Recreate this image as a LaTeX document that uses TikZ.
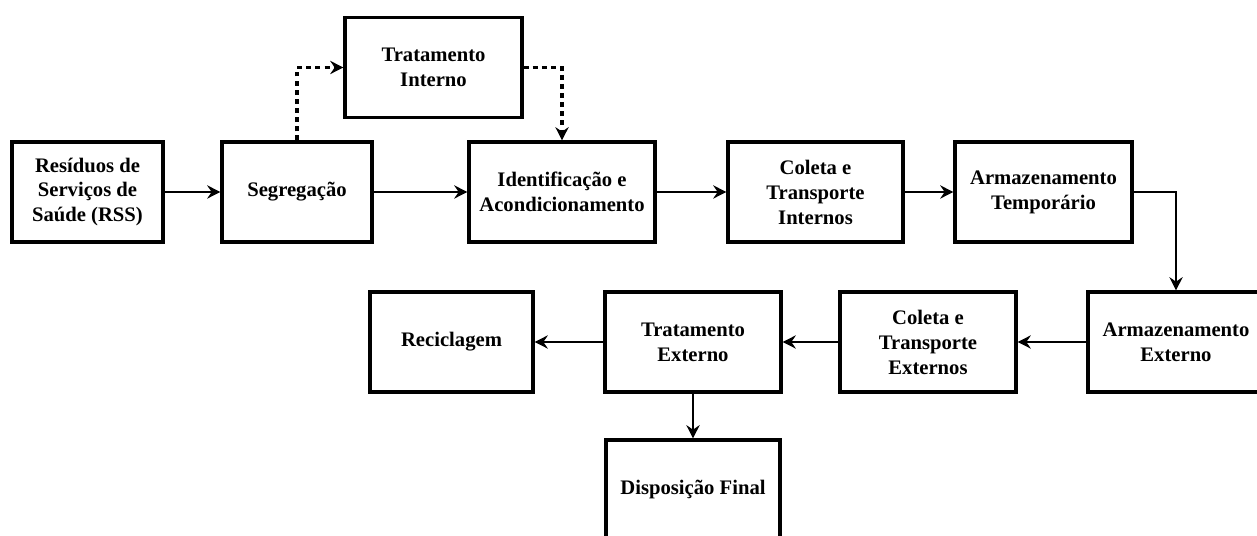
\documentclass[tikz,border=0pt]{standalone}
\usepackage{fontspec}
\setmainfont{Liberation Serif}
\usepackage{tikz}
\usetikzlibrary{arrows.meta, calc}

\begin{document}
\begin{tikzpicture}[
    box/.style={draw=black, line width=1.8pt, align=center, inner sep=2pt,
        minimum height=2.0cm, font=\fontsize{11.75}{14.2}\selectfont\bfseries},
    arr/.style={-{Stealth[length=7.5pt, width=7.5pt, inset=2.5pt]}, line width=1.6pt},
    dots/.style={arr, line width=2.1pt, dash pattern=on 2.8pt off 2.4pt},
]

\path[use as bounding box] (0,0) rectangle (25.14,-10.72);

% ════════════════════════════════════════════════════════
% 1. INTERNAL FLOW (top row)
% ════════════════════════════════════════════════════════
\node[box, minimum width=3.02cm] (rss)     at (1.75, -3.84)  {Resíduos de\\Serviços de\\Saúde (RSS)};
\node[box, minimum width=3.00cm] (seg)     at (5.94, -3.84)  {Segregação};
\node[box, minimum width=3.54cm] (tint)    at (8.67, -1.35)  {Tratamento\\Interno};
\node[box, minimum width=3.72cm] (ident)   at (11.24, -3.84) {Identificação e\\Acondicionamento};
\node[box, minimum width=3.50cm] (colint)  at (16.31, -3.84) {Coleta e\\Transporte\\Internos};
\node[box, minimum width=3.54cm] (armtemp) at (20.87, -3.84) {Armazenamento\\Temporário};

% ════════════════════════════════════════════════════════
% 2. EXTERNAL FLOW (bottom rows)
% ════════════════════════════════════════════════════════
\node[box, minimum width=3.52cm] (armext)  at (23.52, -6.84) {Armazenamento\\Externo};
\node[box, minimum width=3.52cm] (colext)  at (18.56, -6.84) {Coleta e\\Transporte\\Externos};
\node[box, minimum width=3.52cm] (trext)   at (13.86, -6.84) {Tratamento\\Externo};
\node[box, minimum width=3.26cm] (recic)   at (9.03, -6.84)  {Reciclagem};
\node[box, minimum width=3.48cm] (disp)    at (13.86, -9.80) {Disposição Final};

% ════════════════════════════════════════════════════════
% 3. CONNECTORS
% ════════════════════════════════════════════════════════
\draw[arr] (rss) -- (seg);
\draw[arr] (seg) -- (ident);
\draw[arr] (ident) -- (colint);
\draw[arr] (colint) -- (armtemp);
\draw[arr] (armtemp.east) -| (armext.north);
\draw[arr] (armext) -- (colext);
\draw[arr] (colext) -- (trext);
\draw[arr] (trext) -- (recic);
\draw[arr] (trext) -- (disp);

% optional internal treatment (dotted)
\draw[dots] (seg.north) |- (tint.west);
\draw[dots] (tint.east) -| (ident.north);

\end{tikzpicture}
\end{document}
